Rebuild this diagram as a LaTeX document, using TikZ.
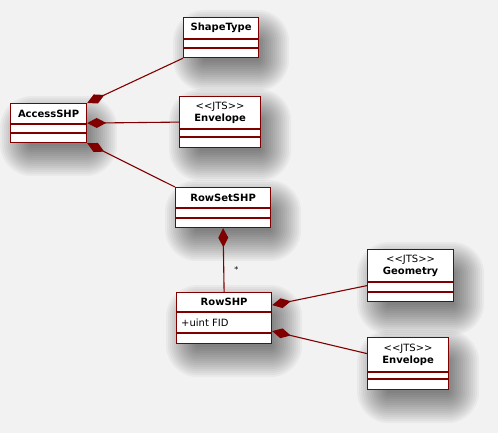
\documentclass[tikz,border=0pt]{standalone}
\usepackage{fontspec}
\setmainfont{DejaVu Sans}
\usetikzlibrary{arrows.meta,backgrounds}

\definecolor{umlred}{RGB}{128,0,0}
\definecolor{bggray}{RGB}{242,242,242}

\tikzset{
  cls/.style={draw=umlred, line width=1.2pt, fill=white, anchor=north west, inner sep=0pt},
  sep/.style={draw=umlred, line width=1.2pt},
  title/.style={align=center, inner sep=0pt, font=\fontsize{10}{12}\selectfont},
  attr/.style={anchor=west, inner sep=0pt, font=\fontsize{10}{12}\selectfont},
  comp/.style={draw=umlred, line width=1.1pt, {Diamond[length=19pt,width=10pt]}-},
  mult/.style={font=\fontsize{8}{8}\selectfont, inner sep=0pt},
  shade/.style={fill=black, opacity=0.034}
}

\begin{document}
\begin{tikzpicture}[x=1pt,y=-1pt]
  \useasboundingbox (0,0) rectangle (498,433);

  \foreach \n/\x/\y/\w/\h/\a/\b/\t in {
      shapetype/183/17/75/40/22/31/{\textbf{ShapeType}},
      access/10/103/76/39/21/30/{\textbf{AccessSHP}},
      envA/179/96/81/51/33/41/{<{}<JTS>{}>\\\textbf{Envelope}},
      rowset/175/187/95/40/21/31/{\textbf{RowSetSHP}},
      row/176/292/95/51/20/41/{\textbf{RowSHP}},
      geom/367/249/86/52/33/43/{<{}<JTS>{}>\\\textbf{Geometry}},
      envB/367/337/81/52/35/42/{<{}<JTS>{}>\\\textbf{Envelope}}} {
    \node[cls, minimum width=\w pt, minimum height=\h pt] (\n) at (\x,\y) {};
    \node[title] (\n-name) at ([yshift=-\a pt/2]\n.north) {\t};
    \draw[sep] ([yshift=-\a pt]\n.north west) -- ([yshift=-\a pt]\n.north east);
    \draw[sep] ([yshift=-\b pt]\n.north west) -- ([yshift=-\b pt]\n.north east);
  }
  \node[attr] (row-fid) at ([xshift=5pt,yshift=-30.5pt]row.north west) {+uint FID};

  \draw[comp] (access.north east) -- (shapetype.south west);
  \draw[comp] (access.east) -- (envA.west);
  \draw[comp] (access.south east) -- (rowset.north west);
  \draw[comp] (rowset.south) -- (row.north)
    node[mult, pos=0.65, right=10pt] {*};
  \draw[comp] ([yshift=13pt]row.east) -- ([yshift=-10pt]geom.west);
  \draw[comp] ([yshift=-13pt]row.east) -- ([yshift=10pt]envB.west);

  \begin{scope}[on background layer]
    \fill[bggray] (0,0) rectangle (498,433);
    \foreach \n in {shapetype,access,envA,rowset,row,geom,envB}
      \foreach \r in {-10,-8,...,20}
        \fill[shade, rounded corners=\r pt+12pt]
          ([shift={(10pt-\r pt,-13pt-\r pt)}]\n.south west) rectangle
          ([shift={(10pt+\r pt,-13pt+\r pt)}]\n.north east);
  \end{scope}
\end{tikzpicture}
\end{document}
